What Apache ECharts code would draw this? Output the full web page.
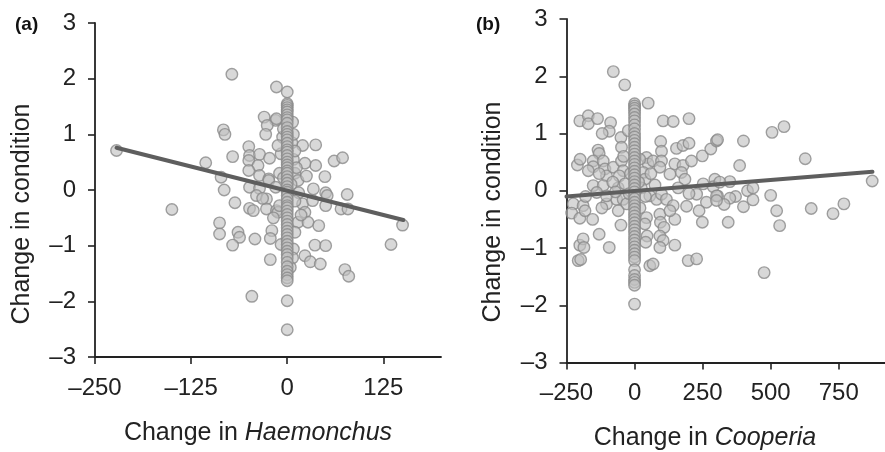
<!DOCTYPE html>
<html><head><meta charset="utf-8">
<script src="https://cdn.jsdelivr.net/npm/echarts@6/dist/echarts.min.js"></script>
<style>html,body{margin:0;padding:0;background:#fff}#c{width:885px;height:452px}</style>
</head><body><div id="c"></div>
<script>
// Panel (a): Haemonchus
const haemOffX = [-222,-150,-106,-83,-81,-72,-71,-50,-49,-36,-50,-38,-23,-50,-36,-24,-86,-82,-49,-36,-14,-30,-15,-26,-28,-14,7,20,37,37,23,49,61,72,78,50,34,10,14,25,-24,-40,-27,-68,-88,-88,-64,-62,-71,-42,-20,-22,-22,-46,-49,-44,-27,-14,-32,-12,20,23,14,27,33,41,50,52,70,79,10,8,7,4,-8,23,30,43,36,50,75,80,135,150,-8,8,12,-10,5,-5,15,-15,10,-10,18,-18,6,-6,8,-5,10,-12];
const haemOffY = [0.71,-0.35,0.49,1.08,1.0,2.08,0.6,0.78,0.62,0.64,0.53,0.44,0.57,0.35,0.26,0.2,0.23,0.0,0.05,0.03,1.85,1.31,1.25,1.16,1.0,1.28,1.22,0.8,0.81,0.44,0.48,0.24,0.52,0.58,-0.08,-0.05,0.02,0.3,0.17,0.25,0.17,-0.1,-0.16,-0.23,-0.59,-0.79,-0.76,-0.85,-0.99,-0.88,-0.73,-0.87,-1.25,-1.91,-0.33,-0.37,-0.34,-0.37,-0.15,-0.4,-0.25,-0.4,-0.58,-0.58,-0.19,-0.64,-0.28,-0.1,-0.34,-0.34,-0.76,-1.06,-1.22,-1.39,-0.98,-1.18,-1.29,-1.33,-0.99,-1.0,-1.43,-1.55,-0.98,-0.63,0.65,0.55,0.4,0.3,0.1,0.22,-0.05,0.05,-0.2,-0.28,-0.45,-0.5,0.85,0.95,1.0,1.1,0.7,0.8];
const haemZeroY = [1.76,1.55,1.52,1.48,1.44,1.4,1.35,1.3,1.26,1.2,1.12,1.05,1.0,0.95,0.9,0.84,0.78,0.72,0.68,0.62,0.56,0.5,0.45,0.4,0.34,0.3,0.24,0.18,0.12,0.06,0.0,-0.04,-0.1,-0.16,-0.22,-0.28,-0.32,-0.38,-0.44,-0.5,-0.56,-0.62,-0.68,-0.74,-0.8,-0.86,-0.92,-0.98,-1.04,-1.1,-1.16,-1.22,-1.3,-1.38,-1.46,-1.52,-1.58,-1.63,-1.99,-2.51];
const fitAX = [-222, 151];
const fitAY = [0.76, -0.54];

// Panel (b): Cooperia
const coopOffX = [-252,-252,-78,-36,50,-201,-170,-170,-136,-88,-93,-119,-50,105,142,200,96,99,154,178,200,249,280,301,-134,-130,-152,-152,-115,-109,-103,-78,-48,-48,-42,-56,-152,-115,-252,-252,44,50,68,99,93,130,148,178,172,209,185,252,295,289,19,32,38,-23,
505,549,305,400,386,627,873,350,313,305,371,350,329,415,435,435,400,500,522,533,649,729,769,344,476,
-252,-225,-231,-201,-189,-182,-154,-252,-201,-189,-186,-207,-198,-130,-93,-103,-50,44,38,46,41,93,95,108,93,105,93,148,148,56,68,197,228,191,237,249,301,228,264,301,-66,-42,-29,-139,-103,56,81,99,117,142,130,
-60,-35,-20,25,40,15,-15,60,75,-80,-70,-40,-210,-200,-170,-130,-180,-120,160,200,-60,20];
const coopOffY = [1.76,1.57,2.08,1.85,1.53,1.22,1.31,1.17,1.26,1.19,1.04,1.0,0.93,1.22,1.21,1.26,0.86,0.69,0.74,0.79,0.83,0.61,0.73,0.87,0.71,0.65,0.52,0.42,0.52,0.38,0.26,0.41,0.76,0.52,0.35,0.26,0.09,0.09,0.2,0.1,0.58,0.47,0.52,0.52,0.41,0.29,0.47,0.44,0.32,0.52,0.2,0.12,0.2,0.07,0.55,0.32,0.2,1.05,
1.02,1.12,0.89,0.87,0.44,0.56,0.17,0.16,0.15,-0.09,-0.1,-0.13,-0.24,0.0,0.05,-0.16,-0.28,-0.08,-0.35,-0.61,-0.31,-0.4,-0.23,-0.55,-1.43,
-0.12,-0.23,-0.39,-0.48,-0.26,-0.35,-0.5,-0.83,-0.95,-0.84,-0.99,-1.22,-1.2,-0.76,-0.99,-0.23,-0.6,-0.47,-0.58,-0.79,-0.9,-0.41,-0.55,-0.64,-0.79,-0.87,-0.99,-0.5,-0.95,-1.31,-1.28,-1.22,-1.19,-0.27,-0.35,-0.55,-0.09,-0.06,-0.2,-0.17,-0.15,-0.15,-0.23,-0.03,-0.09,-0.09,-0.15,-0.06,-0.15,-0.26,-0.35,
0.05,0.12,-0.05,0.05,-0.1,0.15,0.3,0.3,0.1,0.15,-0.02,0.6,0.45,0.55,0.35,0.3,-0.1,-0.3,0.05,-0.05,-0.35,-0.3];
const coopZeroY = [1.52,1.48,1.44,1.4,1.34,1.28,1.22,1.15,1.08,1.0,0.94,0.88,0.82,0.76,0.7,0.64,0.58,0.52,0.46,0.4,0.34,0.28,0.22,0.16,0.1,0.04,-0.02,-0.08,-0.14,-0.2,-0.26,-0.32,-0.38,-0.44,-0.5,-0.56,-0.62,-0.68,-0.74,-0.8,-0.86,-0.92,-0.98,-1.04,-1.1,-1.16,-1.22,-1.38,-1.48,-1.55,-1.6,-1.65,-1.98];
const fitBX = [-250, 874];
const fitBY = [-0.1, 0.33];

const xTicksA = [-250, -125, 0, 125];
const xTicksB = [-250, 0, 250, 500, 750];
const yTicks = [-3, -2, -1, 0, 1, 2, 3];

const FONT = '"Liberation Sans", Arial, Helvetica, sans-serif';
const dash = v => String(v).replace('-', '\u2013');

function pts(xs, ys) { return xs.map((x, i) => [x, ys[i]]); }
function zeroPts(ys) { return ys.map(y => [0, y]); }

const axisLine = { show: true, onZero: false, lineStyle: { color: '#222', width: 1.8 } };
const axisTick = { show: true, length: 7, lineStyle: { color: '#222', width: 1.6 } };
const lab = { color: '#222', fontSize: 24, fontFamily: FONT, formatter: dash };

function xAxis(idx, min, max, ticks) {
  return {
    type: 'value', gridIndex: idx, min: min, max: max,
    axisLine: axisLine, splitLine: { show: false },
    axisTick: Object.assign({ customValues: ticks }, axisTick),
    axisLabel: Object.assign({ customValues: ticks }, lab, { margin: 19 })
  };
}
function yAxis(idx) {
  return {
    type: 'value', gridIndex: idx, min: -3, max: 3, interval: 1,
    axisLine: axisLine, splitLine: { show: false },
    axisTick: Object.assign({ customValues: yTicks }, axisTick),
    axisLabel: Object.assign({ customValues: yTicks }, lab, { margin: 19 })
  };
}
const sc = {
  type: 'scatter', symbol: 'circle', symbolSize: 11.5, z: 2,
  itemStyle: { color: 'rgba(192,192,192,0.78)', borderColor: '#8a8a8a', borderWidth: 1.4 },
  emphasis: { disabled: true }, silent: true
};
const ln = {
  type: 'line', showSymbol: false, symbol: 'none', z: 5, silent: true,
  lineStyle: { color: '#5e5e5e', width: 4, cap: 'round' }
};

const chart = echarts.init(document.getElementById('c'), null, { renderer: 'canvas' });
chart.setOption({
  animation: false,
  backgroundColor: '#fff',
  grid: [
    { left: 95, right: 444, top: 23, bottom: 95, outerBoundsMode: 'none', containLabel: false },
    { left: 566.5, right: 0, top: 19, bottom: 89.5, outerBoundsMode: 'none', containLabel: false }
  ],
  xAxis: [xAxis(0, -250, 200, xTicksA), xAxis(1, -250, 920, xTicksB)],
  yAxis: [yAxis(0), yAxis(1)],
  series: [
    Object.assign({}, sc, { xAxisIndex: 0, yAxisIndex: 0, data: pts(haemOffX, haemOffY) }),
    Object.assign({}, sc, { xAxisIndex: 0, yAxisIndex: 0, data: zeroPts(haemZeroY) }),
    Object.assign({}, ln, { xAxisIndex: 0, yAxisIndex: 0, data: pts(fitAX, fitAY) }),
    Object.assign({}, sc, { xAxisIndex: 1, yAxisIndex: 1, data: pts(coopOffX, coopOffY) }),
    Object.assign({}, sc, { xAxisIndex: 1, yAxisIndex: 1, data: zeroPts(coopZeroY) }),
    Object.assign({}, ln, { xAxisIndex: 1, yAxisIndex: 1, data: pts(fitBX, fitBY) })
  ],
  graphic: [
    { type: 'text', left: 15, top: 15, style: { text: '(a)', font: 'bold 19px ' + FONT, fill: '#111' } },
    { type: 'text', left: 476, top: 15, style: { text: '(b)', font: 'bold 19px ' + FONT, fill: '#111' } },
    { type: 'text', x: 22, y: 214, rotation: Math.PI / 2,
      style: { text: 'Change in condition', font: '25px ' + FONT, fill: '#222', align: 'center', verticalAlign: 'middle' } },
    { type: 'text', x: 493, y: 212, rotation: Math.PI / 2,
      style: { text: 'Change in condition', font: '25px ' + FONT, fill: '#222', align: 'center', verticalAlign: 'middle' } },
    { type: 'text', x: 258, y: 433,
      style: { text: '{n|Change in }{i|Haemonchus}', align: 'center', verticalAlign: 'middle',
        rich: { n: { font: '25px ' + FONT, fill: '#222' }, i: { font: 'italic 25px ' + FONT, fill: '#222' } } } },
    { type: 'text', x: 705, y: 438,
      style: { text: '{n|Change in }{i|Cooperia}', align: 'center', verticalAlign: 'middle',
        rich: { n: { font: '25px ' + FONT, fill: '#222' }, i: { font: 'italic 25px ' + FONT, fill: '#222' } } } }
  ]
});
</script></body></html>
